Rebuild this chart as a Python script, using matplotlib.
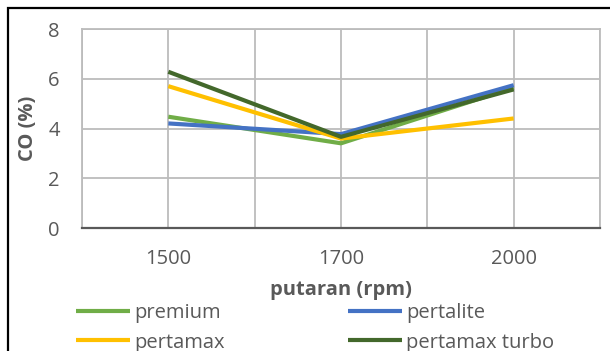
import matplotlib
matplotlib.use("Agg")
import matplotlib.pyplot as plt
from matplotlib.patches import Rectangle
import numpy as np

# data
rpm_labels = ["1500", "1700", "2000"]
premium = [4.48, 3.41, 5.65]
pertalite = [4.21, 3.78, 5.75]
pertamax = [5.71, 3.60, 4.41]
pertamax_turbo = [6.29, 3.67, 5.58]

series = [
    ("premium", premium, "#70AD47"),
    ("pertalite", pertalite, "#4472C4"),
    ("pertamax", pertamax, "#FFC000"),
    ("pertamax turbo", pertamax_turbo, "#43682B"),
]

plt.rcParams["font.family"] = ["Open Sans", "DejaVu Sans"]
text_col = "#595959"
grid_col = "#BCBCBC"

fig = plt.figure(figsize=(6.10, 3.51), dpi=100)
ax = fig.add_axes([82 / 610, 1 - 228 / 351, 518 / 610, (228 - 29.3) / 351])

x = np.arange(len(rpm_labels))
lines = {}
for name, vals, col in series:
    ln, = ax.plot(x, vals, color=col, lw=3, solid_capstyle="butt", label=name)
    lines[name] = ln

ax.set_xlim(-0.5, len(rpm_labels) - 0.5)
ax.set_ylim(0, 8)
ax.set_yticks([0, 2, 4, 6, 8])
ax.set_xticks(x)
ax.set_xticklabels(rpm_labels)
ax.set_xticks(np.arange(-0.5, len(rpm_labels), 1.0), minor=True)

# vertical gridlines at categories and between them
ax.grid(True, which="both", axis="x", color=grid_col, lw=1.3)
ax.grid(True, which="major", axis="y", color=grid_col, lw=1.3)
ax.set_axisbelow(True)
ax.tick_params(which="both", length=0, labelsize=14.5, colors=text_col)
ax.tick_params(axis="y", pad=16)
ax.tick_params(axis="x", pad=15)

for side in ["top", "left", "right"]:
    ax.spines[side].set_color(grid_col)
    ax.spines[side].set_linewidth(1.3)
ax.spines["bottom"].set_color("#595959")
ax.spines["bottom"].set_linewidth(1.6)

fig.text(341 / 610, 1 - 290 / 351, "putaran (rpm)", ha="center", va="center",
         fontsize=14.5, fontweight="bold", color=text_col)
fig.text(28 / 610, 1 - 128 / 351, "CO (%)", ha="center", va="center", rotation=90,
         fontsize=14.5, fontweight="bold", color=text_col)

# legend filled row by row like the original: premium, pertalite / pertamax, pertamax turbo
order = ["premium", "pertamax", "pertalite", "pertamax turbo"]
leg = fig.legend(handles=[lines[n] for n in order], loc="center left", ncol=2,
                 bbox_to_anchor=(76 / 610, 1 - 328 / 351),
                 frameon=False, fontsize=14.5, handlelength=2.7, handletextpad=0.2,
                 columnspacing=6.1, labelspacing=0.45, borderaxespad=0, borderpad=0)
for t in leg.get_texts():
    t.set_color(text_col)

# outer chart border, clipped by image edge on right/bottom
fig.patches.append(Rectangle((8 / 610, -0.1), 1.2, 1 - 8 / 351 + 0.1,
                             transform=fig.transFigure, fill=False,
                             edgecolor="black", lw=1.6))

fig.savefig("out.png", dpi=100)
